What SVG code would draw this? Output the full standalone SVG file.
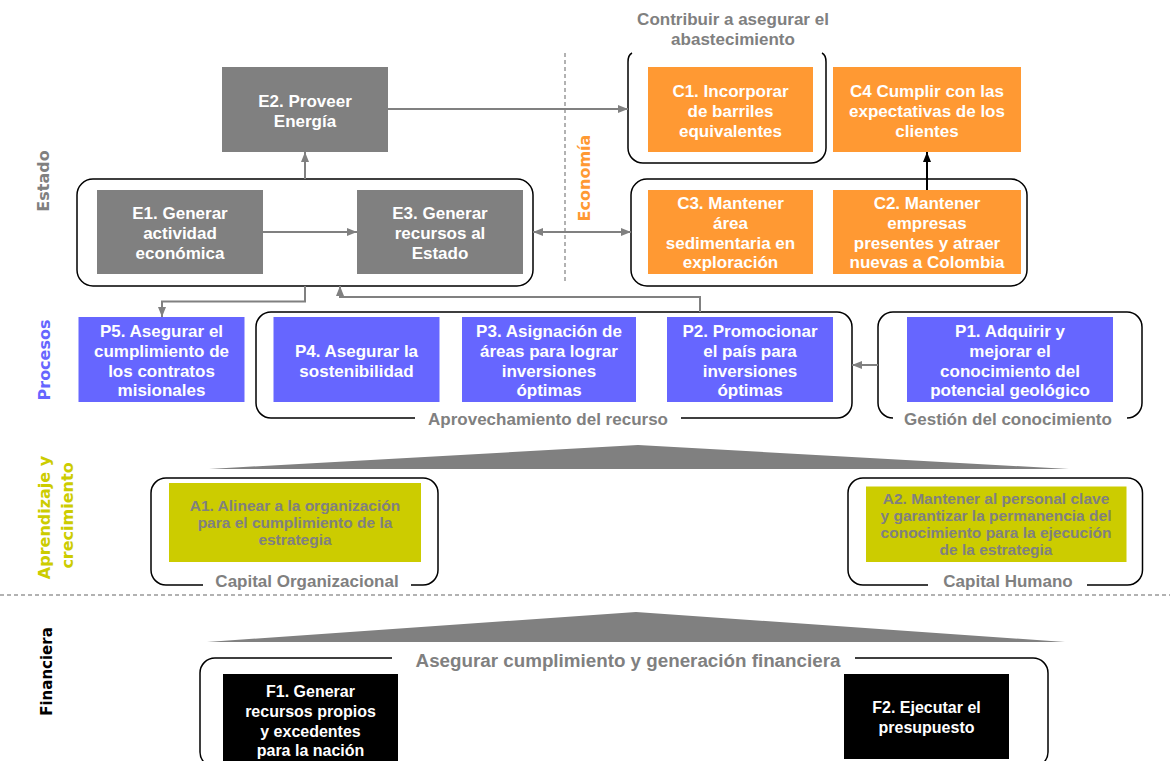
<svg xmlns="http://www.w3.org/2000/svg" width="1170" height="761" viewBox="0 0 1170 761">
<defs>
<marker id="arr" viewBox="0 0 10 8" refX="10" refY="4" markerWidth="10" markerHeight="8" markerUnits="userSpaceOnUse" orient="auto-start-reverse"><path d="M0,0 L10,4 L0,8 Z" fill="#808080"/></marker>
<marker id="arrB" viewBox="0 0 10 8" refX="10" refY="4" markerWidth="10" markerHeight="8" markerUnits="userSpaceOnUse" orient="auto"><path d="M0,0 L10,4 L0,8 Z" fill="#000"/></marker>
</defs>
<style>
text{font-family:"Liberation Sans",Arial,sans-serif;font-weight:bold;}
.nt{font-size:17px;fill:#fff;text-anchor:middle;}
.at{font-size:15.5px;fill:#808080;text-anchor:middle;}
.ft{font-size:16px;fill:#fff;text-anchor:middle;}
.lbl{font-size:17px;fill:#808080;text-anchor:middle;}
.side{font-family:"DejaVu Sans",Verdana,sans-serif;font-size:16px;text-anchor:middle;}
.cont{fill:none;stroke:#000;stroke-width:1.5;}
.conn path{fill:none;stroke:#808080;stroke-width:2;}
.e{fill:#808080;}
.c{fill:#FF9933;}
.p{fill:#6666FF;}
.a{fill:#CCCC00;}
.f{fill:#000;}
.dash{stroke:#999;stroke-width:1.5;stroke-dasharray:4 3;fill:none;}
</style>
<rect width="1170" height="761" fill="#fff"/>

<!-- side labels -->
<text class="side" fill="#808080" transform="translate(49,181) rotate(-90)">Estado</text>
<text class="side" fill="#FF9933" transform="translate(590,178) rotate(-90)">Economía</text>
<text class="side" fill="#6666FF" transform="translate(50,360) rotate(-90)">Procesos</text>
<text class="side" fill="#CCCC00" transform="translate(49.5,517.5) rotate(-90)">Aprendizaje y</text>
<text class="side" fill="#CCCC00" transform="translate(72.5,515.5) rotate(-90)">crecimiento</text>
<text class="side" fill="#000" style="font-size:15px" transform="translate(51.5,671.5) rotate(-90)">Financiera</text>

<!-- separators -->
<path class="dash" d="M565,53 V282"/>
<path class="dash" d="M0,595 H1170"/>

<!-- top label -->
<text class="lbl" x="733" y="25">Contribuir a asegurar el</text>
<text class="lbl" x="733" y="45">abastecimiento</text>

<!-- triangles -->
<polygon points="209,469 638,445 1069,469" fill="#808080"/>
<polygon points="207,642 636,612 1065,642" fill="#808080"/>

<!-- containers -->
<g id="grp-estado"><rect class="cont" x="77" y="179" width="456" height="107" rx="16"/></g>
<g id="grp-abastecimiento"><path class="cont" d="M632,53 Q628,55 628,62 L628,148 A15,15 0 0 0 643,163 L811,163 A15,15 0 0 0 826,148 L826,62 Q826,55 822,53"/></g>
<g id="grp-economia"><rect class="cont" x="631" y="179" width="396" height="107" rx="16"/></g>
<g id="grp-aprovechamiento">
<path class="cont" d="M415,418 L271,418 A15,15 0 0 1 256,403 L256,327 A15,15 0 0 1 271,312 L837,312 A15,15 0 0 1 852,327 L852,403 A15,15 0 0 1 837,418 L681,418"/>
<text class="lbl" x="548" y="425">Aprovechamiento del recurso</text>
</g>
<g id="grp-gestion">
<path class="cont" d="M893,418 A15,15 0 0 1 878,403 L878,327 A15,15 0 0 1 893,312 L1127,312 A15,15 0 0 1 1142,327 L1142,403 A15,15 0 0 1 1127,418"/>
<text class="lbl" x="1008" y="425">Gestión del conocimiento</text>
</g>
<g id="grp-capital-org">
<path class="cont" d="M203,585 L166,585 A15,15 0 0 1 151,570 L151,493 A15,15 0 0 1 166,478 L423,478 A15,15 0 0 1 438,493 L438,570 A15,15 0 0 1 423,585 L411,585"/>
<text class="lbl" x="307" y="587">Capital Organizacional</text>
</g>
<g id="grp-capital-hum">
<path class="cont" d="M928,585 L863,585 A15,15 0 0 1 848,570 L848,493 A15,15 0 0 1 863,478 L1127.5,478 A15,15 0 0 1 1142.5,493 L1142.5,570 A15,15 0 0 1 1127.5,585 L1087,585"/>
<text class="lbl" x="1008" y="587">Capital Humano</text>
</g>
<g id="grp-financiera">
<path class="cont" d="M392,658 L215,658 A15,15 0 0 0 200,673 L200,752 A15,15 0 0 0 215,767 L1033,767 A15,15 0 0 0 1048,752 L1048,673 A15,15 0 0 0 1033,658 L855,658"/>
<text class="lbl" style="font-size:18.8px" x="628" y="666.5">Asegurar cumplimiento y generación financiera</text>
</g>

<!-- connectors -->
<g id="connectors" class="conn">
<path d="M263,232 H357" marker-end="url(#arr)"/>
<path d="M533,232 H631" marker-start="url(#arr)" marker-end="url(#arr)"/>
<path d="M305,179 V152" marker-end="url(#arr)"/>
<path d="M388,109 H628" marker-end="url(#arr)"/>
<path d="M927,190 V152" style="stroke:#000" marker-end="url(#arrB)"/>
<path d="M305,286 V301.5 H162 V317" marker-end="url(#arr)"/>
<path d="M700,312 V297 H340 V286" marker-end="url(#arr)"/>
<path d="M878,365 H852" marker-end="url(#arr)"/>
</g>

<!-- nodes -->
<g id="E2"><rect class="e" x="222" y="67" width="166" height="85"/>
<text class="nt" x="305" y="107">E2. Proveer</text><text class="nt" x="305" y="127">Energía</text></g>
<g id="E1"><rect class="e" x="97" y="190" width="166" height="84"/>
<text class="nt" x="180" y="219">E1. Generar</text><text class="nt" x="180" y="239">actividad</text><text class="nt" x="180" y="259">económica</text></g>
<g id="E3"><rect class="e" x="357" y="190" width="166" height="84"/>
<text class="nt" x="440" y="219">E3. Generar</text><text class="nt" x="440" y="239">recursos al</text><text class="nt" x="440" y="259">Estado</text></g>

<g id="C1"><rect class="c" x="648" y="67" width="165" height="85"/>
<text class="nt" x="730.5" y="97">C1. Incorporar</text><text class="nt" x="730.5" y="117">de barriles</text><text class="nt" x="730.5" y="137">equivalentes</text></g>
<g id="C4"><rect class="c" x="833" y="67" width="188" height="85"/>
<text class="nt" x="927" y="97">C4 Cumplir con las</text><text class="nt" x="927" y="117">expectativas de los</text><text class="nt" x="927" y="137">clientes</text></g>
<g id="C3"><rect class="c" x="648" y="190" width="165" height="84"/>
<text class="nt" x="730.5" y="209">C3. Mantener</text><text class="nt" x="730.5" y="229">área</text><text class="nt" x="730.5" y="249">sedimentaria en</text><text class="nt" x="730.5" y="268">exploración</text></g>
<g id="C2"><rect class="c" x="833" y="190" width="188" height="84"/>
<text class="nt" x="927" y="209">C2. Mantener</text><text class="nt" x="927" y="229">empresas</text><text class="nt" x="927" y="249">presentes y atraer</text><text class="nt" x="927" y="268">nuevas a Colombia</text></g>

<g id="P5"><rect class="p" x="78.5" y="317" width="166" height="85"/>
<text class="nt" x="161.5" y="337">P5. Asegurar el</text><text class="nt" x="161.5" y="357">cumplimiento de</text><text class="nt" x="161.5" y="377">los contratos</text><text class="nt" x="161.5" y="396">misionales</text></g>
<g id="P4"><rect class="p" x="273.5" y="317" width="166" height="85"/>
<text class="nt" x="356.5" y="357">P4. Asegurar la</text><text class="nt" x="356.5" y="377">sostenibilidad</text></g>
<g id="P3"><rect class="p" x="462" y="317" width="174" height="85"/>
<text class="nt" x="549" y="337">P3. Asignación de</text><text class="nt" x="549" y="357">áreas para lograr</text><text class="nt" x="549" y="377">inversiones</text><text class="nt" x="549" y="396">óptimas</text></g>
<g id="P2"><rect class="p" x="667" y="317" width="166" height="85"/>
<text class="nt" x="750" y="337">P2. Promocionar</text><text class="nt" x="750" y="357">el país para</text><text class="nt" x="750" y="377">inversiones</text><text class="nt" x="750" y="396">óptimas</text></g>
<g id="P1"><rect class="p" x="907" y="317" width="206" height="85"/>
<text class="nt" x="1010" y="337">P1. Adquirir y</text><text class="nt" x="1010" y="357">mejorar el</text><text class="nt" x="1010" y="377">conocimiento del</text><text class="nt" x="1010" y="396">potencial geológico</text></g>

<g id="A1"><rect class="a" x="169" y="483" width="252" height="79"/>
<text class="at" x="295" y="510.5">A1. Alinear a la organización</text><text class="at" x="295" y="527.5">para el cumplimiento de la</text><text class="at" x="295" y="545">estrategia</text></g>
<g id="A2"><rect class="a" x="866" y="486.5" width="260.5" height="75.5"/>
<text class="at" x="996" y="504">A2. Mantener al personal clave</text><text class="at" x="996" y="521">y garantizar la permanencia del</text><text class="at" x="996" y="538">conocimiento para la ejecución</text><text class="at" x="996" y="555">de la estrategia</text></g>

<g id="F1"><rect class="f" x="223" y="674" width="175" height="92"/>
<text class="ft" x="310.5" y="697">F1. Generar</text><text class="ft" x="310.5" y="717">recursos propios</text><text class="ft" x="310.5" y="737">y excedentes</text><text class="ft" x="310.5" y="756">para la nación</text></g>
<g id="F2"><rect class="f" x="844" y="674" width="165" height="85"/>
<text class="ft" x="926.5" y="713">F2. Ejecutar el</text><text class="ft" x="926.5" y="733">presupuesto</text></g>
</svg>
